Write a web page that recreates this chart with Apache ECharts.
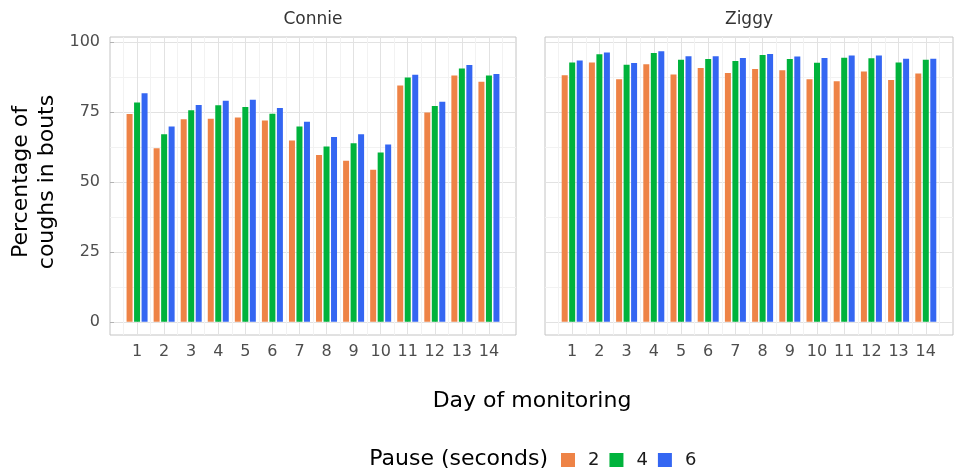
<!DOCTYPE html>
<html>
<head>
<meta charset="utf-8">
<style>
  html, body { margin: 0; padding: 0; background: #fff; }
  #chart { width: 956px; height: 472px; }
</style>
<script src="https://cdn.jsdelivr.net/npm/echarts@6/dist/echarts.min.js"></script>
</head>
<body>
<div id="chart"></div>
<script>
// days of monitoring (x axis)
const days = [1, 2, 3, 4, 5, 6, 7, 8, 9, 10, 11, 12, 13, 14]
const panels = ['Connie', 'Ziggy']
const pauses = ['2', '4', '6']
const colors = ['#EE8346', '#00B33C', '#3466F2']

// percentage of coughs in bouts, per pause length
const connie2 = [74.3, 62.0, 72.4, 72.6, 73.0, 72.0, 64.8, 59.6, 57.6, 54.4, 84.5, 74.8, 88.0, 85.8]
const connie4 = [78.4, 67.0, 75.6, 77.4, 76.8, 74.4, 69.8, 62.7, 63.8, 60.5, 87.3, 77.1, 90.5, 88.0]
const connie6 = [81.7, 69.8, 77.5, 79.0, 79.4, 76.4, 71.5, 66.1, 67.0, 63.4, 88.3, 78.7, 91.8, 88.6]
const ziggy2 = [88.1, 92.7, 86.7, 92.1, 88.4, 90.7, 88.9, 90.4, 89.9, 86.7, 86.0, 89.5, 86.4, 88.8]
const ziggy4 = [92.7, 95.6, 91.9, 96.1, 93.7, 93.9, 93.2, 95.4, 93.9, 92.6, 94.4, 94.2, 92.7, 93.7]
const ziggy6 = [93.4, 96.3, 92.5, 96.7, 94.9, 94.9, 94.3, 95.7, 94.8, 94.3, 95.2, 95.2, 94.0, 94.0]

const yTicks = [0, 25, 50, 75, 100]
const yGrid = [0, 12.5, 25, 37.5, 50, 62.5, 75, 87.5, 100]
const xGrid = days.reduce((acc, d) => acc.concat([d - 0.5, d]), []).concat([14.5])

const font = 'DejaVu Sans'
const chart = echarts.init(document.getElementById('chart'))

const grids = [
  { left: 110, width: 406, top: 37, height: 298 },
  { left: 545, width: 408, top: 37, height: 298 }
]

const xAxes = []
const yAxes = []
grids.forEach((g, i) => {
  // axis carrying bars, labels and grid lines
  xAxes.push({
    type: 'value', gridIndex: i, min: 0, max: 15,
    axisLine: { show: false },
    axisTick: { show: false, customValues: xGrid },
    axisLabel: { customValues: days, color: '#4d4d4d', fontSize: 16, fontFamily: font, margin: 9 },
    splitLine: { show: true, lineStyle: { color: ['#f2f2f2', '#e2e2e2'], width: 1 } }
  })
  // axis carrying only the tick marks
  xAxes.push({
    type: 'value', gridIndex: i, min: 0, max: 15,
    axisLine: { show: false },
    axisTick: { show: true, customValues: days, length: 4, lineStyle: { color: '#b3b3b3' } },
    axisLabel: { show: false },
    splitLine: { show: false }
  })
  yAxes.push({
    type: 'value', gridIndex: i, min: -4.7, max: 101.8,
    axisLine: { show: false },
    axisTick: { show: false, customValues: yGrid },
    axisLabel: { show: i === 0, customValues: yTicks, color: '#4d4d4d', fontSize: 16, fontFamily: font, margin: 10 },
    splitLine: { show: true, lineStyle: { color: ['#e2e2e2', '#f2f2f2'], width: 1 } }
  })
  yAxes.push({
    type: 'value', gridIndex: i, min: -4.7, max: 101.8,
    axisLine: { show: false },
    axisTick: { show: i === 0, customValues: yTicks, length: 4, lineStyle: { color: '#b3b3b3' } },
    axisLabel: { show: false },
    splitLine: { show: false }
  })
})

const panelData = [[connie2, connie4, connie6], [ziggy2, ziggy4, ziggy6]]
const series = []
panelData.forEach((sets, p) => {
  sets.forEach((vals, k) => {
    series.push({
      name: pauses[k],
      type: 'bar',
      xAxisIndex: p * 2,
      yAxisIndex: p * 2,
      barWidth: 6,
      barGap: '25%',
      itemStyle: { color: colors[k] },
      data: days.map((d, j) => [d, vals[j]])
    })
  })
})

chart.setOption({
  animation: false,
  grid: grids.map(g => Object.assign({ show: true, borderColor: '#c4c4c4', borderWidth: 1, backgroundColor: '#fff' }, g)),
  xAxis: xAxes,
  yAxis: yAxes,
  legend: {
    data: pauses,
    left: 556, top: 446,
    icon: 'rect', itemWidth: 14, itemHeight: 14, itemGap: 10,
    textStyle: { fontSize: 18, fontFamily: font, color: '#1a1a1a', padding: [0, 0, 0, 8] }
  },
  graphic: [
    { type: 'text', style: { text: panels[0], font: '17px ' + font, fill: '#333', textAlign: 'center', textVerticalAlign: 'middle', x: 313, y: 20 } },
    { type: 'text', style: { text: panels[1], font: '17px ' + font, fill: '#333', textAlign: 'center', textVerticalAlign: 'middle', x: 749, y: 20 } },
    { type: 'text', style: { text: 'Day of monitoring', font: '22px ' + font, fill: '#000', textAlign: 'center', textVerticalAlign: 'middle', x: 532, y: 401 } },
    { type: 'text', style: { text: 'Pause (seconds)', font: '22px ' + font, fill: '#000', textAlign: 'right', textVerticalAlign: 'middle', x: 548, y: 459 } },
    {
      type: 'text', x: 34, y: 182, rotation: Math.PI / 2,
      style: { text: 'Percentage of\ncoughs in bouts', font: '22px ' + font, fill: '#000', textAlign: 'center', textVerticalAlign: 'middle', lineHeight: 26 }
    }
  ],
  series: series
})
</script>
</body>
</html>
